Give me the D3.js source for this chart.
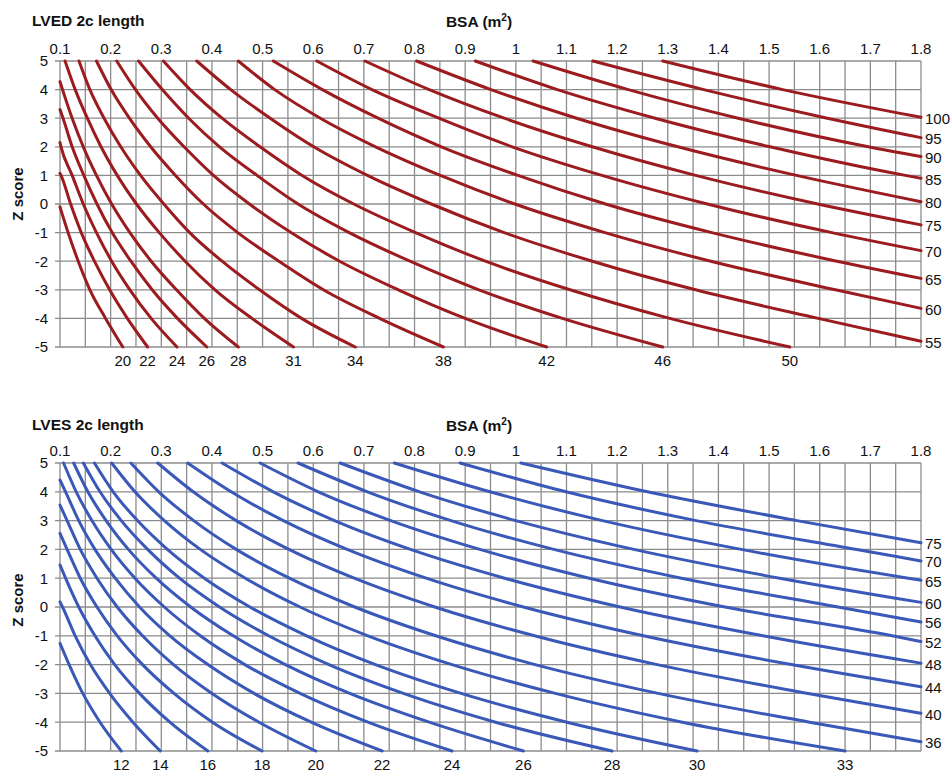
<!doctype html>
<html>
<head>
<meta charset="utf-8">
<script src="https://d3js.org/d3.v7.min.js"></script>
<style>
  body { margin: 0; background: #fff; }
  text { font-family: "Liberation Sans", Arial, sans-serif; fill: #111; }
  .grid line { stroke: #8c8c8c; stroke-width: 1.3; }
  .curve { fill: none; stroke-width: 3; stroke-linejoin: round; stroke-linecap: round; }
</style>
</head>
<body>
<svg width="951" height="774"></svg>
<script>
// z levels the crossings below refer to (top row of grid to bottom row)
var zLevels = [5, 4, 3, 2, 1, 0, -1, -2, -3, -4, -5];
var bsaTicks = [0.1, 0.2, 0.3, 0.4, 0.5, 0.6, 0.7, 0.8, 0.9, 1, 1.1, 1.2, 1.3, 1.4, 1.5, 1.6, 1.7, 1.8];

// ---- LVED 2c length (mm) ----
var lvedLengths = [20, 22, 24, 26, 28, 31, 34, 38, 42, 46, 50, 55, 60, 65, 70, 75, 80, 85, 90, 95, 100];
// z where the curve meets BSA 0.1 (null = enters from the top)
var lvedStartZ = [-0.1, 1.07, 2.15, 3.3, 4.28, null, null, null, null, null, null,
                  null, null, null, null, null, null, null, null, null, null];
// z where the curve meets BSA 1.8 (null = leaves through the bottom)
var lvedEndZ = [null, null, null, null, null, null, null, null, null, null, null,
                -4.8, -3.65, -2.6, -1.63, -0.73, 0.08, 0.9, 1.66, 2.32, 3.03];
// BSA where each curve crosses z = 5, 4, ... -5
var lvedCross = [
  [null, null, null, null, null, null, 0.116, 0.136, 0.159, 0.19, 0.224],
  [null, null, null, null, 0.102, 0.121, 0.142, 0.168, 0.198, 0.233, 0.273],
  [null, null, null, 0.102, 0.124, 0.146, 0.172, 0.202, 0.238, 0.28, 0.331],
  [null, null, 0.106, 0.124, 0.147, 0.173, 0.203, 0.24, 0.282, 0.332, 0.39],
  [null, 0.105, 0.124, 0.146, 0.172, 0.202, 0.238, 0.28, 0.33, 0.385, 0.452],
  [0.11, 0.13, 0.154, 0.181, 0.213, 0.251, 0.296, 0.347, 0.406, 0.479, 0.561],
  [0.1375, 0.159, 0.187, 0.22, 0.259, 0.305, 0.356, 0.42, 0.494, 0.577, 0.683],
  [0.172, 0.201, 0.237, 0.279, 0.328, 0.383, 0.451, 0.532, 0.62, 0.731, 0.857],
  [0.212, 0.249, 0.293, 0.345, 0.403, 0.474, 0.556, 0.652, 0.768, 0.9, 1.061],
  [0.255, 0.302, 0.354, 0.415, 0.489, 0.57, 0.671, 0.791, 0.927, 1.092, 1.29],
  [0.304, 0.357, 0.42, 0.495, 0.578, 0.68, 0.802, 0.94, 1.107, 1.304, 1.541],
  [0.37, 0.437, 0.515, 0.601, 0.707, 0.833, 0.977, 1.151, 1.355, 1.597, null],
  [0.452, 0.524, 0.614, 0.723, 0.851, 0.998, 1.176, 1.385, 1.631, null, null],
  [0.521, 0.618, 0.728, 0.853, 1.004, 1.177, 1.387, 1.634, null, null, null],
  [0.607, 0.716, 0.848, 0.993, 1.17, 1.378, 1.624, null, null, null, null],
  [0.702, 0.829, 0.977, 1.151, 1.355, 1.596, null, null, null, null, null],
  [0.804, 0.951, 1.12, 1.32, 1.554, null, null, null, null, null, null],
  [0.92, 1.082, 1.275, 1.502, 1.769, null, null, null, null, null, null],
  [1.034, 1.222, 1.439, 1.696, null, null, null, null, null, null, null],
  [1.152, 1.371, 1.615, null, null, null, null, null, null, null, null],
  [1.29, 1.527, null, null, null, null, null, null, null, null, null]
];

// ---- LVES 2c length (mm) ----
var lvesLengths = [12, 14, 16, 18, 20, 22, 24, 26, 28, 30, 33, 36, 40, 44, 48, 52, 56, 60, 65, 70, 75];
var lvesStartZ = [-1.26, 0.18, 1.46, 2.56, 3.54, 4.41, null, null, null, null, null,
                  null, null, null, null, null, null, null, null, null, null];
var lvesEndZ = [null, null, null, null, null, null, null, null, null, null, null,
                -4.68, -3.69, -2.77, -1.95, -1.2, -0.52, 0.16, 0.93, 1.6, 2.23];
var lvesCross = [
  [null, null, null, null, null, null, null, 0.118, 0.145, 0.179, 0.221],
  [null, null, null, null, null, 0.105, 0.13, 0.16, 0.198, 0.244, 0.298],
  [null, null, null, null, 0.111, 0.137, 0.169, 0.208, 0.257, 0.317, 0.392],
  [null, null, null, 0.114, 0.14, 0.173, 0.213, 0.263, 0.325, 0.401, 0.499],
  [null, null, 0.114, 0.14, 0.173, 0.213, 0.263, 0.324, 0.4, 0.493, 0.605],
  [null, 0.111, 0.137, 0.169, 0.209, 0.257, 0.317, 0.392, 0.483, 0.596, 0.736],
  [0.107, 0.132, 0.163, 0.201, 0.248, 0.306, 0.377, 0.465, 0.574, 0.708, 0.874],
  [0.127, 0.155, 0.191, 0.235, 0.29, 0.358, 0.442, 0.545, 0.672, 0.829, 1.015],
  [0.146, 0.179, 0.221, 0.273, 0.336, 0.415, 0.512, 0.631, 0.778, 0.96, 1.19],
  [0.168, 0.205, 0.253, 0.312, 0.385, 0.475, 0.587, 0.723, 0.892, 1.101, 1.358],
  [0.202, 0.248, 0.306, 0.377, 0.466, 0.574, 0.708, 0.874, 1.078, 1.329, 1.65],
  [0.24, 0.295, 0.364, 0.448, 0.553, 0.682, 0.842, 1.038, 1.281, 1.58, null],
  [0.293, 0.363, 0.448, 0.552, 0.681, 0.84, 1.037, 1.279, 1.577, null, null],
  [0.352, 0.438, 0.541, 0.667, 0.823, 1.015, 1.252, 1.544, null, null, null],
  [0.42, 0.521, 0.642, 0.792, 0.978, 1.206, 1.488, null, null, null, null],
  [0.495, 0.61, 0.753, 0.929, 1.145, 1.413, 1.743, null, null, null, null],
  [0.57, 0.707, 0.872, 1.075, 1.327, 1.636, null, null, null, null, null],
  [0.653, 0.81, 1.0, 1.233, 1.521, null, null, null, null, null, null],
  [0.76, 0.949, 1.171, 1.445, 1.775, null, null, null, null, null, null],
  [0.89, 1.099, 1.356, 1.673, null, null, null, null, null, null, null],
  [1.01, 1.26, 1.555, null, null, null, null, null, null, null, null]
];

var svg = d3.select("svg");
var left = 60, right = 921;

function drawPanel(p) {
  var x = d3.scaleLinear().domain([0.1, 1.8]).range([left, right]);
  var y = d3.scaleLinear().domain([-5, 5]).range([p.bottom, p.top]);
  var g = svg.append("g");

  // grid: every 0.05 of BSA, every 1 of z
  var grid = g.append("g").attr("class", "grid");
  grid.selectAll(".v").data(d3.range(0, 35).map(function(k) { return 0.1 + k * 0.05; }))
    .enter().append("line")
    .attr("x1", function(d) { return x(d); }).attr("x2", function(d) { return x(d); })
    .attr("y1", p.top).attr("y2", p.bottom);
  grid.selectAll(".h").data(zLevels)
    .enter().append("line")
    .attr("x1", left - 5).attr("x2", right)
    .attr("y1", function(d) { return y(d); }).attr("y2", function(d) { return y(d); });

  // top BSA ticks
  g.selectAll(".xt").data(bsaTicks).enter().append("text")
    .attr("x", function(d) { return x(d); })
    .attr("y", p.top - 7)
    .attr("text-anchor", "middle")
    .style("font-size", "15px")
    .text(function(d) { return String(+d.toFixed(1)); });

  // z ticks
  g.selectAll(".yt").data(zLevels).enter().append("text")
    .attr("x", left - 12)
    .attr("y", function(d) { return y(d); })
    .attr("dy", "0.36em")
    .attr("text-anchor", "end")
    .style("font-size", "15px")
    .text(function(d) { return d; });

  // titles
  g.append("text").attr("x", 32).attr("y", p.titleY)
    .style("font-size", "15.5px").style("font-weight", "bold").text(p.title);
  var bt = g.append("text").attr("x", 479).attr("y", p.titleY + 1)
    .attr("text-anchor", "middle")
    .style("font-size", "15.5px").style("font-weight", "bold");
  bt.append("tspan").text("BSA (m");
  bt.append("tspan").attr("dy", -6).style("font-size", "10px").text("2");
  bt.append("tspan").attr("dy", 6).text(")");
  g.append("text")
    .attr("transform", "translate(23," + p.zLabelY + ") rotate(-90)")
    .attr("text-anchor", "middle")
    .style("font-size", "15px").style("font-weight", "bold")
    .text("Z score");

  // curves
  var line = d3.line()
    .x(function(d) { return x(d[0]); })
    .y(function(d) { return y(d[1]); })
    .curve(d3.curveMonotoneX);

  var curves = p.lengths.map(function(L, i) {
    var pts = [];
    if (p.startZ[i] !== null) pts.push([0.1, p.startZ[i]]);
    p.cross[i].forEach(function(b, j) { if (b !== null) pts.push([b, zLevels[j]]); });
    if (p.endZ[i] !== null) pts.push([1.8, p.endZ[i]]);
    pts.sort(function(a, b) { return a[0] - b[0]; });
    return { L: L, pts: pts, bottomX: p.cross[i][10], endZ: p.endZ[i] };
  });

  g.selectAll(".curve").data(curves).enter().append("path")
    .attr("class", "curve")
    .attr("stroke", p.color)
    .attr("d", function(d) { return line(d.pts); });

  // curve labels below the plot
  g.selectAll(".bl").data(curves.filter(function(d) { return d.bottomX !== null; }))
    .enter().append("text")
    .attr("x", function(d) { return x(d.bottomX); })
    .attr("y", p.bottom + 19)
    .attr("text-anchor", "middle")
    .style("font-size", "15px")
    .text(function(d) { return d.L; });

  // curve labels on the right
  g.selectAll(".rl").data(curves.filter(function(d) { return d.endZ !== null; }))
    .enter().append("text")
    .attr("x", right + 4)
    .attr("y", function(d) { return y(d.endZ) + 1; })
    .attr("dy", "0.36em")
    .style("font-size", "15px")
    .text(function(d) { return d.L; });
}

drawPanel({
  title: "LVED 2c length", titleY: 26, top: 61, bottom: 347, zLabelY: 194,
  color: "#9b1b1e", lengths: lvedLengths, startZ: lvedStartZ, endZ: lvedEndZ, cross: lvedCross
});
drawPanel({
  title: "LVES 2c length", titleY: 430, top: 463, bottom: 751, zLabelY: 600,
  color: "#3a58b8", lengths: lvesLengths, startZ: lvesStartZ, endZ: lvesEndZ, cross: lvesCross
});
</script>
</body>
</html>
